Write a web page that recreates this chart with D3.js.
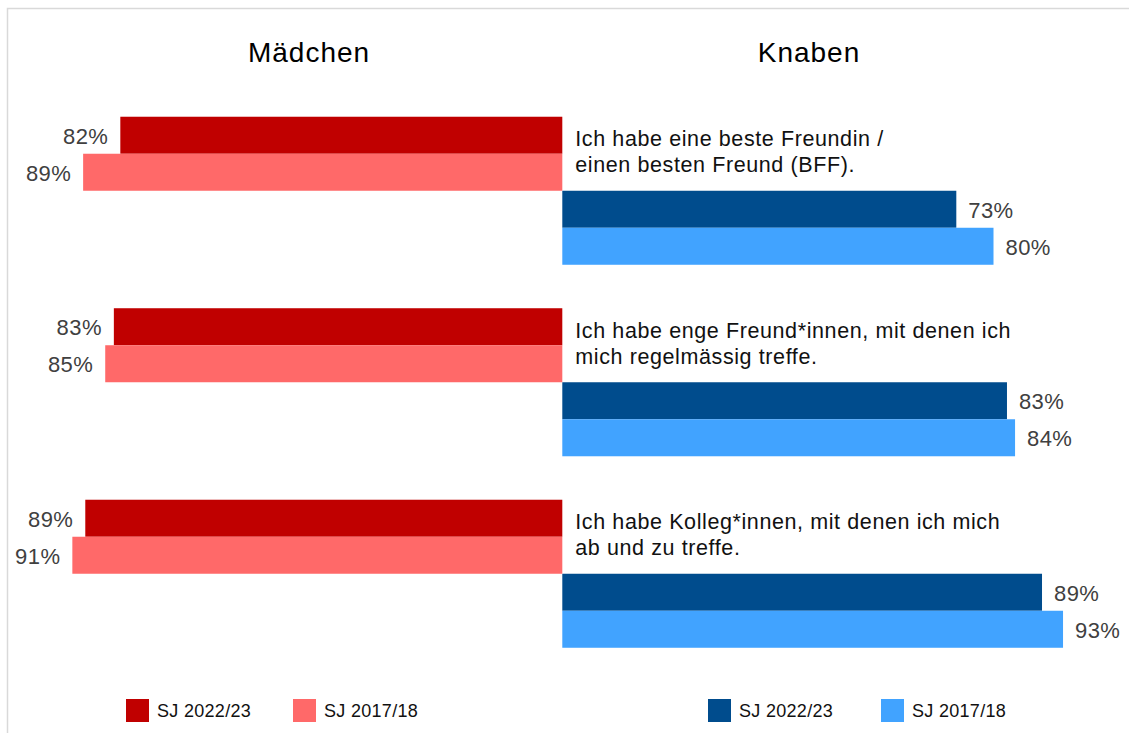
<!DOCTYPE html>
<html>
<head>
<meta charset="utf-8">
<script src="https://cdn.jsdelivr.net/npm/d3@7"></script>
<style>
  html, body { margin: 0; padding: 0; background: #fff; }
  text { font-family: "Liberation Sans", Arial, sans-serif; }
</style>
</head>
<body>
<div id="chart"></div>
<script>
const categories = ["BFF", "Enge Freunde", "Kollegen"];
const categoryLines = [
  ["Ich habe eine beste Freundin /", "einen besten Freund (BFF)."],
  ["Ich habe enge Freund*innen, mit denen ich", "mich regelmässig treffe."],
  ["Ich habe Kolleg*innen, mit denen ich mich", "ab und zu treffe."]
];
// values (labels shown rounded)
const maedchen2223 = [82.0, 83.2, 88.5];
const maedchen1718 = [88.9, 84.8, 90.9];
const knaben2223 = [73.1, 82.5, 89.0];
const knaben1718 = [80.0, 84.0, 92.9];
const seriesKeys = ["m2223", "m1718", "k2223", "k1718"];
const legendLabels = ["SJ 2022/23", "SJ 2017/18"];

const WIDTH = 1129, HEIGHT = 733;
const CENTER = 562.3;
const COLORS = { m2223: "#C00000", m1718: "#FF6969", k2223: "#004C8D", k1718: "#41A3FF" };

const svg = d3.select("#chart").append("svg")
  .attr("width", WIDTH)
  .attr("height", HEIGHT);

// light frame (runs off right and bottom edge)
svg.append("rect")
  .attr("x", 7.5).attr("y", 8.5)
  .attr("width", WIDTH + 20).attr("height", HEIGHT + 20)
  .attr("fill", "none")
  .attr("stroke", "#d9d9d9")
  .attr("stroke-width", 1.5);

const xLeft = d3.scaleLinear().domain([0, 100]).range([CENTER, CENTER - 539]);
const xRight = d3.scaleLinear().domain([0, 100]).range([CENTER, CENTER + 539]);

const y = d3.scaleBand()
  .domain(categories)
  .range([95, 669.5])
  .paddingInner(0.227)
  .paddingOuter(0.1135);

const ySub = d3.scaleBand()
  .domain(seriesKeys)
  .range([0, y.bandwidth()]);

const rows = categories.map((c, i) => ({
  cat: c,
  lines: categoryLines[i],
  m2223: maedchen2223[i],
  m1718: maedchen1718[i],
  k2223: knaben2223[i],
  k1718: knaben1718[i]
}));

const g = svg.append("g");

// Column titles
g.append("text")
  .attr("x", 309).attr("y", 62)
  .attr("text-anchor", "middle")
  .attr("font-size", 28)
  .attr("letter-spacing", 1)
  .attr("fill", "#000")
  .text("Mädchen");
g.append("text")
  .attr("x", 809).attr("y", 62)
  .attr("text-anchor", "middle")
  .attr("font-size", 28)
  .attr("letter-spacing", 1)
  .attr("fill", "#000")
  .text("Knaben");

rows.forEach(r => {
  const grp = g.append("g").attr("transform", `translate(0,${y(r.cat)})`);

  seriesKeys.forEach(k => {
    const isLeft = k.startsWith("m");
    const xs = isLeft ? xLeft : xRight;
    const x0 = Math.min(xs(0), xs(r[k]));
    const w = Math.abs(xs(r[k]) - xs(0));
    grp.append("rect")
      .attr("x", x0)
      .attr("y", ySub(k))
      .attr("width", w)
      .attr("height", ySub.bandwidth())
      .attr("fill", COLORS[k]);

    grp.append("text")
      .attr("x", isLeft ? xs(r[k]) - 12 : xs(r[k]) + 12)
      .attr("y", ySub(k) + ySub.bandwidth() / 2)
      .attr("dy", "0.38em")
      .attr("text-anchor", isLeft ? "end" : "start")
      .attr("font-size", 22)
      .attr("letter-spacing", 0.4)
      .attr("fill", "#404040")
      .text(Math.round(r[k]) + "%");
  });

  // category text to the right of centre
  const t = grp.append("text")
    .attr("font-size", 21.5)
    .attr("letter-spacing", 0.6)
    .attr("fill", "#111");
  r.lines.forEach((line, j) => {
    t.append("tspan")
      .attr("x", CENTER + 13)
      .attr("y", 29.5 + j * 26)
      .text(line);
  });
});

// Legends
const legendItems = [
  { x: 126, color: COLORS.m2223, label: legendLabels[0] },
  { x: 293, color: COLORS.m1718, label: legendLabels[1] },
  { x: 708, color: COLORS.k2223, label: legendLabels[0] },
  { x: 881, color: COLORS.k1718, label: legendLabels[1] }
];
const lg = svg.append("g").attr("class", "legend");
legendItems.forEach(d => {
  lg.append("rect")
    .attr("x", d.x).attr("y", 699)
    .attr("width", 23).attr("height", 23)
    .attr("fill", d.color);
  lg.append("text")
    .attr("x", d.x + 31).attr("y", 717)
    .attr("font-size", 18)
    .attr("letter-spacing", 0.3)
    .attr("fill", "#111")
    .text(d.label);
});
</script>
</body>
</html>
